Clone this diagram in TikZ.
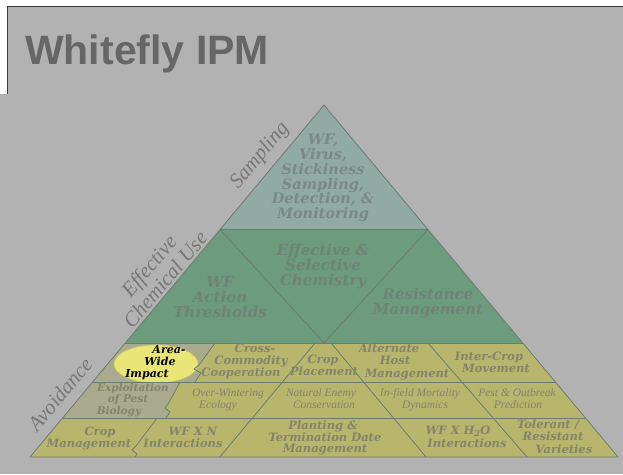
\documentclass[tikz,border=0pt]{standalone}
\usepackage{fontspec}
\setmainfont{Liberation Serif}
\newfontfamily\titlefont{Liberation Sans}
\newfontfamily\dvs{DejaVu Serif}
\definecolor{bgc}{HTML}{B2B2B2}
\definecolor{framec}{HTML}{3A3A3A}
\definecolor{titlec}{HTML}{666666}
\definecolor{topc}{HTML}{92AAA4}
\definecolor{midc}{HTML}{6D9B7E}
\definecolor{botc}{HTML}{B8B56D}
\definecolor{grayc}{HTML}{AAAA8E}
\definecolor{edgec}{HTML}{6B7B6E}
\definecolor{yelc}{HTML}{E9E577}
\definecolor{yeledge}{HTML}{CFCB5C}
\definecolor{topt}{HTML}{7A8986}
\definecolor{midt}{HTML}{6F8476}
\definecolor{bott}{HTML}{84846A}
\definecolor{sidec}{HTML}{777777}
\begin{document}
\begin{tikzpicture}[x=1pt,y=-1pt,
  edge/.style={draw=edgec, line width=0.8pt, line join=round},
  tt/.style={font=\dvs\bfseries\itshape\fontsize{14.5}{14.8}\selectfont, text=topt, align=center, inner sep=0pt},
  mt/.style={font=\dvs\bfseries\itshape\fontsize{15}{14.8}\selectfont, text=midt, align=center, inner sep=0pt},
  bl/.style={font=\dvs\bfseries\itshape\fontsize{11.5}{12}\selectfont, text=bott, inner sep=0pt, text height=0.7em, text depth=0.2em},
  el/.style={font=\dvs\bfseries\itshape\fontsize{10.5}{11}\selectfont, text=bott, inner sep=0pt, text height=0.7em, text depth=0.2em},
  il/.style={font=\itshape\fontsize{11.5}{12}\selectfont, text=bott, inner sep=0pt, text height=0.7em, text depth=0.2em},
  kl/.style={font=\dvs\bfseries\itshape\fontsize{11}{12}\selectfont, text=black, inner sep=0pt, text height=0.7em, text depth=0.2em},
  sl/.style={font=\itshape\fontsize{21}{21}\selectfont, text=sidec, rotate=50, align=center, inner sep=0pt}
]
\useasboundingbox (0,0) rectangle (623,474);
\fill[bgc] (0,0) rectangle (623,474);
\fill[white] (0,0) rectangle (623,6);
\fill[white] (0,0) rectangle (7,94);
\draw[framec, line width=1pt] (7,94) -- (7,6) -- (623,6);

\node[anchor=base west, font=\titlefont\bfseries\fontsize{41}{41}\selectfont, text=titlec, inner sep=0pt] (title) at (25,64) {Whitefly IPM};

% pyramid coordinates
\coordinate (A) at (324,105);
\coordinate (TL) at (220.1,229.5);
\coordinate (TR) at (427.9,229.5);
\coordinate (ML) at (125.2,343);
\coordinate (MR) at (522.8,343);
\coordinate (MB) at (324,343);
\coordinate (BL) at (30,457);
\coordinate (BR) at (618,457);
\coordinate (R1L) at (92.7,382);
\coordinate (R1R) at (555.3,382);
\coordinate (R2L) at (62.6,418);
\coordinate (R2R) at (585.4,418);

% fills
\fill[topc] (A) -- (TL) -- (TR) -- cycle;
\fill[midc] (TL) -- (TR) -- (MR) -- (ML) -- cycle;
\fill[botc] (ML) -- (MR) -- (BR) -- (BL) -- cycle;
\fill[grayc] (ML) -- (215,343) -- (199,365) -- (194,369) -- (201,373) -- (195,382) -- (R1L) -- cycle;
\fill[grayc] (R1L) -- (180,382) -- (168,404) -- (165,408) -- (170,412) -- (166,418) -- (R2L) -- cycle;

% highlight ellipse
\fill[yelc, draw=yeledge, line width=0.6pt] (156,364) ellipse [x radius=42pt, y radius=19pt];

% lines
\draw[edge] (TL) -- (TR);
\draw[edge] (ML) -- (MR);
\draw[edge] (TL) -- (MB) -- (TR);
\draw[edge] (R1L) -- (R1R);
\draw[edge] (R2L) -- (R2R);
\draw[edge] (315,343) -- (219.8,457);
\draw[edge] (331,343) -- (426,457);
\draw[edge] (428,343) -- (527,457);
\draw[edge] (215,343) -- (199,365) -- (194,369) -- (201,373) -- (195,382);
\draw[edge] (180,382) -- (168,404) -- (165,408) -- (170,412) -- (166,418);
\draw[edge] (157,418) -- (136,446) -- (132,450) -- (137,454) -- (135,457);
\draw[edge] (A) -- (BL) -- (BR) -- cycle;

% side labels
\node[sl] (s1) at (260,156) {Sampling};
\node[sl] (s2) at (157,272.5) {Effective\\Chemical Use};
\node[sl] (s3) at (60,394) {Avoidance};

% top and middle
\node[tt] (t1) at (323,178) {WF,\\Virus,\\Stickiness\\Sampling,\\Detection, \&\\Monitoring};
\node[mt] (m1) at (323,266.5) {Effective \&\\Selective\\Chemistry};
\node[mt] (m2) at (220,297) {WF\\Action\\Thresholds};
\node[mt] (m3) at (428,303) {Resistance\\Management};

% bottom row 1
\node[kl] (a1) at (169,350.5) {Area-};
\node[kl] (a2) at (160,363) {Wide};
\node[kl] (a3) at (147,375) {Impact};
\node[bl] (c1) at (255,350) {Cross-};
\node[bl] (c2) at (251,362) {Commodity};
\node[bl] (c3) at (241,373.5) {Cooperation};
\node[bl] (p1) at (323,361) {Crop};
\node[bl] (p2) at (324,373) {Placement};
\node[bl] (h1) at (389,350) {Alternate};
\node[bl] (h2) at (395,362) {Host};
\node[bl] (h3) at (407,375) {Management};
\node[bl] (i1) at (489,358) {Inter-Crop};
\node[bl] (i2) at (496,370) {Movement};

% bottom row 2
\node[el] (e1) at (133,388.5) {Exploitation};
\node[el] (e2) at (128,400) {of Pest};
\node[el] (e3) at (119,411.5) {Biology};
\node[il] (o1) at (228,394) {Over-Wintering};
\node[il] (o2) at (218,406) {Ecology};
\node[il] (n1) at (321,394) {Natural Enemy};
\node[il] (n2) at (324,405.5) {Conservation};
\node[il] (d1) at (420,394) {In-field Mortality};
\node[il] (d2) at (425,406) {Dynamics};
\node[il] (q1) at (517,394) {Pest \& Outbreak};
\node[il] (q2) at (518,406) {Prediction};

% bottom row 3
\node[bl] (g1) at (100,432.5) {Crop};
\node[bl] (g2) at (89,444.5) {Management};
\node[bl] (w1) at (193,432.5) {WF X N};
\node[bl] (w2) at (183,444.5) {Interactions};
\node[bl] (k1) at (323,427) {Planting \&};
\node[bl] (k2) at (325,438.5) {Termination Date};
\node[bl] (k3) at (325,450) {Management};
\node[bl] (x1) at (458,432) {WF X H\textsubscript{2}O};
\node[bl] (x2) at (467,445) {Interactions};
\node[bl] (v1) at (548,426) {Tolerant /};
\node[bl] (v2) at (553,438) {Resistant};
\node[bl] (v3) at (564,451) {Varieties};
\end{tikzpicture}
\end{document}
